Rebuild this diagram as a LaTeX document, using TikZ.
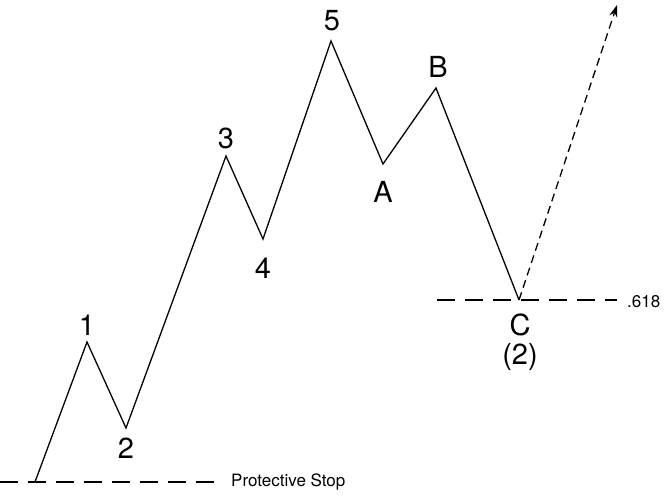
\documentclass[tikz,border=0pt]{standalone}
\usepackage{fontspec}
\setmainfont{TeX Gyre Heros}
\usetikzlibrary{arrows.meta}
\begin{document}
\begin{tikzpicture}[x=1pt,y=-1pt,
  lbl/.style={font=\fontsize{29}{30}\selectfont,inner sep=0pt},
  sml/.style={font=\fontsize{17}{18}\selectfont,inner sep=0pt,anchor=west},
  wave/.style={line width=1.3pt,line join=miter},
  hdash/.style={line width=1.3pt,dash pattern=on 18pt off 10pt},
  adash/.style={line width=1.3pt,dash pattern=on 8pt off 5pt,-{Stealth[length=12pt,width=8pt]}}]
\useasboundingbox (0,0) rectangle (666,495);
\coordinate (s) at (35,482);
\coordinate (p1) at (87,342);
\coordinate (p2) at (126,428);
\coordinate (p3) at (226,156);
\coordinate (p4) at (263,239);
\coordinate (p5) at (331,41);
\coordinate (pA) at (383,164);
\coordinate (pB) at (436,88);
\coordinate (pC) at (519,300);
\coordinate (tip) at (617,5);
\coordinate (ps0) at (0,482);
\coordinate (ps1) at (222,482);
\coordinate (fb0) at (437,300);
\coordinate (fb1) at (617,300);
\draw[wave] (s) -- (p1) -- (p2) -- (p3) -- (p4) -- (p5) -- (pA) -- (pB) -- (pC);
\draw[adash] (pC) -- (tip);
\draw[hdash] (ps0) -- (ps1);
\draw[hdash] (fb0) -- (fb1);
\node[lbl] (l1) at (87,325) {1};
\node[lbl] (l2) at (126,448) {2};
\node[lbl] (l3) at (226,138) {3};
\node[lbl] (l4) at (263,268) {4};
\node[lbl] (l5) at (332,21) {5};
\node[lbl] (lA) at (383,192) {A};
\node[lbl] (lB) at (438,67) {B};
\node[lbl] (lC) at (520,325) {C};
\node[lbl] (l2b) at (520,357) {(2)};
\node[sml] (tps) at (231,482) {Protective Stop};
\node[sml] (tfb) at (627,302) {.618};
\end{tikzpicture}
\end{document}
